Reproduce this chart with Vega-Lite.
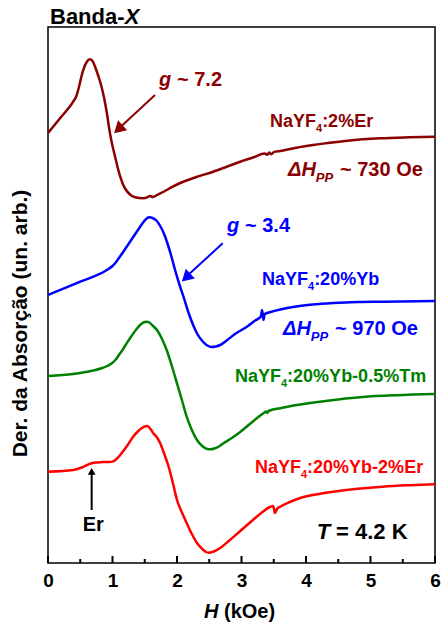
{
  "$schema": "https://vega.github.io/schema/vega-lite/v6.json",
  "width": 387,
  "height": 536,
  "autosize": {"type": "none"},
  "padding": {"left": 48, "top": 27, "right": 6, "bottom": 65},
  "config": {
    "font": "Liberation Sans",
    "view": {"stroke": "#000", "strokeWidth": 1.5}
  },
  "datasets": {
    "curves": [
      {"s":"Er","x":0,"y":430},{"s":"Er","x":0.19,"y":445},{"s":"Er","x":0.39,"y":461.3},{"s":"Er","x":0.44,"y":467},{"s":"Er","x":0.48,"y":476},{"s":"Er","x":0.52,"y":487},{"s":"Er","x":0.56,"y":495.5},{"s":"Er","x":0.6,"y":501},{"s":"Er","x":0.65,"y":503.7},{"s":"Er","x":0.69,"y":502},{"s":"Er","x":0.73,"y":496.3},{"s":"Er","x":0.78,"y":487},{"s":"Er","x":0.83,"y":476.3},{"s":"Er","x":0.87,"y":465},{"s":"Er","x":0.91,"y":451},{"s":"Er","x":0.96,"y":430},{"s":"Er","x":1.0,"y":417},{"s":"Er","x":1.04,"y":406.3},{"s":"Er","x":1.08,"y":395.5},{"s":"Er","x":1.12,"y":386.3},{"s":"Er","x":1.16,"y":379},{"s":"Er","x":1.2,"y":374},{"s":"Er","x":1.28,"y":368},{"s":"Er","x":1.35,"y":365.7},{"s":"Er","x":1.48,"y":364.7},{"s":"Er","x":1.55,"y":366},{"s":"Er","x":1.58,"y":367},{"s":"Er","x":1.63,"y":366},{"s":"Er","x":1.69,"y":368},{"s":"Er","x":1.8,"y":371.5},{"s":"Er","x":1.92,"y":375.8},{"s":"Er","x":2.05,"y":380},{"s":"Er","x":2.3,"y":386},{"s":"Er","x":2.56,"y":391.3},{"s":"Er","x":2.78,"y":396.5},{"s":"Er","x":2.98,"y":401.3},{"s":"Er","x":3.18,"y":405.5},{"s":"Er","x":3.36,"y":409.5},{"s":"Er","x":3.4,"y":408.3},{"s":"Er","x":3.43,"y":410.5},{"s":"Er","x":3.46,"y":408.7},{"s":"Er","x":3.5,"y":410.8},{"s":"Er","x":3.6,"y":412},{"s":"Er","x":3.85,"y":415.3},{"s":"Er","x":4.11,"y":418},{"s":"Er","x":4.37,"y":420.3},{"s":"Er","x":4.64,"y":422.3},{"s":"Er","x":5.15,"y":424.7},{"s":"Er","x":5.6,"y":425.7},{"s":"Er","x":6,"y":426.3},
      {"s":"Yb","x":0,"y":268},{"s":"Yb","x":0.5,"y":281.3},{"s":"Yb","x":0.9,"y":292.5},{"s":"Yb","x":1.0,"y":297},{"s":"Yb","x":1.05,"y":300.5},{"s":"Yb","x":1.1,"y":305},{"s":"Yb","x":1.16,"y":310.5},{"s":"Yb","x":1.22,"y":316.3},{"s":"Yb","x":1.3,"y":324},{"s":"Yb","x":1.4,"y":333.5},{"s":"Yb","x":1.48,"y":341},{"s":"Yb","x":1.53,"y":344.5},{"s":"Yb","x":1.57,"y":345.7},{"s":"Yb","x":1.62,"y":345},{"s":"Yb","x":1.68,"y":342.5},{"s":"Yb","x":1.74,"y":337},{"s":"Yb","x":1.8,"y":329},{"s":"Yb","x":1.86,"y":318},{"s":"Yb","x":1.92,"y":305},{"s":"Yb","x":1.97,"y":293},{"s":"Yb","x":2.04,"y":278},{"s":"Yb","x":2.1,"y":266.3},{"s":"Yb","x":2.18,"y":250},{"s":"Yb","x":2.25,"y":238},{"s":"Yb","x":2.32,"y":228.5},{"s":"Yb","x":2.4,"y":221.5},{"s":"Yb","x":2.47,"y":217.5},{"s":"Yb","x":2.54,"y":216},{"s":"Yb","x":2.6,"y":216.5},{"s":"Yb","x":2.67,"y":218},{"s":"Yb","x":2.78,"y":223},{"s":"Yb","x":2.9,"y":229},{"s":"Yb","x":3.0,"y":233},{"s":"Yb","x":3.1,"y":237},{"s":"Yb","x":3.2,"y":242},{"s":"Yb","x":3.3,"y":246.5},{"s":"Yb","x":3.32,"y":253},{"s":"Yb","x":3.34,"y":243},{"s":"Yb","x":3.36,"y":249},{"s":"Yb","x":3.45,"y":251},{"s":"Yb","x":3.6,"y":253.5},{"s":"Yb","x":3.71,"y":255},{"s":"Yb","x":3.9,"y":257},{"s":"Yb","x":4.1,"y":258.5},{"s":"Yb","x":4.42,"y":260},{"s":"Yb","x":4.8,"y":261},{"s":"Yb","x":5.19,"y":261.3},{"s":"Yb","x":6,"y":262},
      {"s":"Tm","x":0,"y":187},{"s":"Tm","x":0.39,"y":189},{"s":"Tm","x":0.7,"y":192.5},{"s":"Tm","x":0.83,"y":194.7},{"s":"Tm","x":0.92,"y":197},{"s":"Tm","x":0.99,"y":199.7},{"s":"Tm","x":1.05,"y":203.5},{"s":"Tm","x":1.1,"y":208},{"s":"Tm","x":1.16,"y":213.5},{"s":"Tm","x":1.22,"y":219.7},{"s":"Tm","x":1.3,"y":227.5},{"s":"Tm","x":1.38,"y":234.5},{"s":"Tm","x":1.45,"y":239.2},{"s":"Tm","x":1.5,"y":241},{"s":"Tm","x":1.53,"y":241.3},{"s":"Tm","x":1.57,"y":240.5},{"s":"Tm","x":1.62,"y":237.5},{"s":"Tm","x":1.69,"y":233},{"s":"Tm","x":1.76,"y":225},{"s":"Tm","x":1.84,"y":213},{"s":"Tm","x":1.92,"y":197},{"s":"Tm","x":2.0,"y":179.7},{"s":"Tm","x":2.08,"y":162},{"s":"Tm","x":2.15,"y":146.3},{"s":"Tm","x":2.23,"y":133},{"s":"Tm","x":2.31,"y":123},{"s":"Tm","x":2.4,"y":116.5},{"s":"Tm","x":2.47,"y":114},{"s":"Tm","x":2.51,"y":113.7},{"s":"Tm","x":2.58,"y":114.5},{"s":"Tm","x":2.65,"y":116.5},{"s":"Tm","x":2.72,"y":119.7},{"s":"Tm","x":2.85,"y":125},{"s":"Tm","x":2.98,"y":131},{"s":"Tm","x":3.12,"y":138.5},{"s":"Tm","x":3.26,"y":146},{"s":"Tm","x":3.35,"y":150.3},{"s":"Tm","x":3.38,"y":151.5},{"s":"Tm","x":3.4,"y":150},{"s":"Tm","x":3.42,"y":152},{"s":"Tm","x":3.6,"y":154.8},{"s":"Tm","x":3.86,"y":158},{"s":"Tm","x":4.3,"y":162},{"s":"Tm","x":4.88,"y":166},{"s":"Tm","x":5.4,"y":167.8},{"s":"Tm","x":6,"y":169},
      {"s":"YbEr","x":0,"y":91.3},{"s":"YbEr","x":0.39,"y":93},{"s":"YbEr","x":0.52,"y":95.5},{"s":"YbEr","x":0.6,"y":97.8},{"s":"YbEr","x":0.68,"y":99.7},{"s":"YbEr","x":0.76,"y":100.5},{"s":"YbEr","x":0.85,"y":101},{"s":"YbEr","x":0.95,"y":101},{"s":"YbEr","x":1.01,"y":101.6},{"s":"YbEr","x":1.07,"y":104.5},{"s":"YbEr","x":1.14,"y":109.7},{"s":"YbEr","x":1.23,"y":117.5},{"s":"YbEr","x":1.32,"y":126.3},{"s":"YbEr","x":1.4,"y":132},{"s":"YbEr","x":1.45,"y":134.7},{"s":"YbEr","x":1.5,"y":136.5},{"s":"YbEr","x":1.54,"y":137},{"s":"YbEr","x":1.57,"y":135.5},{"s":"YbEr","x":1.6,"y":133},{"s":"YbEr","x":1.63,"y":130},{"s":"YbEr","x":1.68,"y":126.5},{"s":"YbEr","x":1.74,"y":119.7},{"s":"YbEr","x":1.8,"y":109.5},{"s":"YbEr","x":1.87,"y":96.3},{"s":"YbEr","x":1.94,"y":79},{"s":"YbEr","x":2.0,"y":63},{"s":"YbEr","x":2.08,"y":50},{"s":"YbEr","x":2.15,"y":40},{"s":"YbEr","x":2.23,"y":29},{"s":"YbEr","x":2.31,"y":20},{"s":"YbEr","x":2.4,"y":13.5},{"s":"YbEr","x":2.45,"y":11},{"s":"YbEr","x":2.49,"y":10.3},{"s":"YbEr","x":2.55,"y":11},{"s":"YbEr","x":2.67,"y":15},{"s":"YbEr","x":2.82,"y":23},{"s":"YbEr","x":2.98,"y":32},{"s":"YbEr","x":3.15,"y":41.5},{"s":"YbEr","x":3.33,"y":51.3},{"s":"YbEr","x":3.44,"y":56},{"s":"YbEr","x":3.49,"y":57},{"s":"YbEr","x":3.52,"y":50},{"s":"YbEr","x":3.55,"y":54},{"s":"YbEr","x":3.6,"y":56.3},{"s":"YbEr","x":3.75,"y":61},{"s":"YbEr","x":3.91,"y":65},{"s":"YbEr","x":4.15,"y":68.5},{"s":"YbEr","x":4.42,"y":71.3},{"s":"YbEr","x":4.8,"y":74.2},{"s":"YbEr","x":5.19,"y":76.3},{"s":"YbEr","x":5.6,"y":77.7},{"s":"YbEr","x":6,"y":78.7}
    ],
    "ticks": [
      {"s":"k","x":0,"y":0,"x2":0,"y2":7},{"s":"k","x":0.5,"y":0,"x2":0.5,"y2":4},
      {"s":"k","x":1,"y":0,"x2":1,"y2":7},{"s":"k","x":1.5,"y":0,"x2":1.5,"y2":4},
      {"s":"k","x":2,"y":0,"x2":2,"y2":7},{"s":"k","x":2.5,"y":0,"x2":2.5,"y2":4},
      {"s":"k","x":3,"y":0,"x2":3,"y2":7},{"s":"k","x":3.5,"y":0,"x2":3.5,"y2":4},
      {"s":"k","x":4,"y":0,"x2":4,"y2":7},{"s":"k","x":4.5,"y":0,"x2":4.5,"y2":4},
      {"s":"k","x":5,"y":0,"x2":5,"y2":7},{"s":"k","x":5.5,"y":0,"x2":5.5,"y2":4},
      {"s":"k","x":6,"y":0,"x2":6,"y2":7}
    ],
    "n18": [
      {"s":"Er","t":"NaYF","x":3.442,"y":436},{"s":"Er","t":":2%Er","x":4.25,"y":436},
      {"s":"Yb","t":"NaYF","x":3.318,"y":278},{"s":"Yb","t":":20%Yb","x":4.126,"y":278},
      {"s":"Tm","t":"NaYF","x":2.899,"y":181},{"s":"Tm","t":":20%Yb-0.5%Tm","x":3.707,"y":181},
      {"s":"YbEr","t":"NaYF","x":3.209,"y":90},{"s":"YbEr","t":":20%Yb-2%Er","x":4.017,"y":90}
    ],
    "sub": [
      {"s":"Er","t":"4","x":4.155,"y":431.5},{"s":"Yb","t":"4","x":4.031,"y":273.5},
      {"s":"Tm","t":"4","x":3.612,"y":176.5},{"s":"YbEr","t":"4","x":3.922,"y":85.5}
    ],
    "it20": [
      {"s":"Er","t":"g","x":1.721,"y":477},{"s":"Yb","t":"g","x":2.775,"y":331},
      {"s":"Er","t":"ΔH","x":3.721,"y":387},{"s":"Yb","t":"ΔH","x":3.643,"y":228},
      {"s":"k","t":"H","x":2.419,"y":-55}
    ],
    "n20": [
      {"s":"Er","t":"~ 7.2","x":2.0,"y":477},{"s":"Yb","t":"~ 3.4","x":3.054,"y":331},
      {"s":"Er","t":"~ 730 Oe","x":4.527,"y":387},{"s":"Yb","t":"~ 970 Oe","x":4.45,"y":228},
      {"s":"k","t":"Er","x":0.538,"y":32},{"s":"k","t":"(kOe)","x":2.729,"y":-55}
    ],
    "it13": [
      {"s":"Er","t":"PP","x":4.152,"y":381},{"s":"Yb","t":"PP","x":4.074,"y":222}
    ],
    "n22": [
      {"s":"k","t":"Banda-","x":0.031,"y":539},{"s":"k","t":"= 4.2 K","x":4.465,"y":24}
    ],
    "it22": [
      {"s":"k","t":"X","x":1.188,"y":539},{"s":"k","t":"T","x":4.166,"y":24}
    ],
    "rules": [
      {"s":"Er","x":1.659,"y":468,"x2":1.116,"y2":435.5},
      {"s":"Yb","x":2.709,"y":319.7,"x2":2.155,"y2":287},
      {"s":"k","x":0.677,"y":53,"x2":0.677,"y2":91}
    ],
    "heads": [
      {"s":"Er","x":1.091,"y":433.8},{"s":"Yb","x":2.141,"y":285.4}
    ],
    "headEr": [
      {"s":"k","x":0.677,"y":91.6}
    ]
  },
  "encoding": {
    "x": {
      "field": "x", "type": "quantitative",
      "scale": {"domain": [0, 6], "nice": false, "zero": false},
      "axis": {
        "values": [0,1,2,3,4,5,6],
        "labelExpr": "format(datum.value, 'd')",
        "ticks": false,
        "domain": false, "grid": false, "title": null,
        "labelFontSize": 19, "labelFontWeight": "bold", "labelColor": "#000",
        "labelPadding": 8, "labelFlush": false, "labelOverlap": false
      }
    },
    "y": {
      "field": "y", "type": "quantitative",
      "scale": {"domain": [0, 536], "nice": false, "zero": false},
      "axis": {
        "labels": false, "ticks": false, "domain": false, "grid": false,
        "title": "Der. da Absorção (un. arb.)",
        "titleFontSize": 21, "titleFontWeight": "bold", "titleColor": "#000",
        "titlePadding": 18, "titleY": 296
      }
    },
    "color": {
      "field": "s", "type": "nominal", "legend": null,
      "scale": {"domain": ["Er","Yb","Tm","YbEr","k"], "range": ["#8B0000","#0000FF","#008000","#FF0000","#000000"]}
    }
  },
  "layer": [
    {"data": {"name": "curves"}, "mark": {"type": "line", "strokeWidth": 2.5, "interpolate": "monotone"}, "encoding": {"detail": {"field": "s"}}},
    {"data": {"name": "rules"}, "mark": {"type": "rule", "strokeWidth": 2}, "encoding": {"x2": {"field": "x2"}, "y2": {"field": "y2"}}},
    {"data": {"name": "heads"}, "mark": {"type": "point", "shape": "triangle-up", "filled": true, "opacity": 1, "size": 180, "angle": 227}},
    {"data": {"name": "headEr"}, "mark": {"type": "point", "shape": "triangle-up", "filled": true, "opacity": 1, "size": 60, "angle": 0}},
    {"data": {"name": "n18"}, "mark": {"type": "text", "align": "left", "baseline": "alphabetic", "fontSize": 18, "fontWeight": "bold"}, "encoding": {"text": {"field": "t"}}},
    {"data": {"name": "sub"}, "mark": {"type": "text", "align": "left", "baseline": "alphabetic", "fontSize": 11, "fontWeight": "bold"}, "encoding": {"text": {"field": "t"}}},
    {"data": {"name": "it20"}, "mark": {"type": "text", "align": "left", "baseline": "alphabetic", "fontSize": 20, "fontWeight": "bold", "fontStyle": "italic"}, "encoding": {"text": {"field": "t"}}},
    {"data": {"name": "n20"}, "mark": {"type": "text", "align": "left", "baseline": "alphabetic", "fontSize": 20, "fontWeight": "bold"}, "encoding": {"text": {"field": "t"}}},
    {"data": {"name": "it13"}, "mark": {"type": "text", "align": "left", "baseline": "alphabetic", "fontSize": 13, "fontWeight": "bold", "fontStyle": "italic"}, "encoding": {"text": {"field": "t"}}},
    {"data": {"name": "n22"}, "mark": {"type": "text", "align": "left", "baseline": "alphabetic", "fontSize": 22, "fontWeight": "bold"}, "encoding": {"text": {"field": "t"}}},
    {"data": {"name": "it22"}, "mark": {"type": "text", "align": "left", "baseline": "alphabetic", "fontSize": 22, "fontWeight": "bold", "fontStyle": "italic"}, "encoding": {"text": {"field": "t"}}},
    {"data": {"name": "ticks"}, "mark": {"type": "rule", "strokeWidth": 2}, "encoding": {"x2": {"field": "x2"}, "y2": {"field": "y2"}}}
  ]
}
